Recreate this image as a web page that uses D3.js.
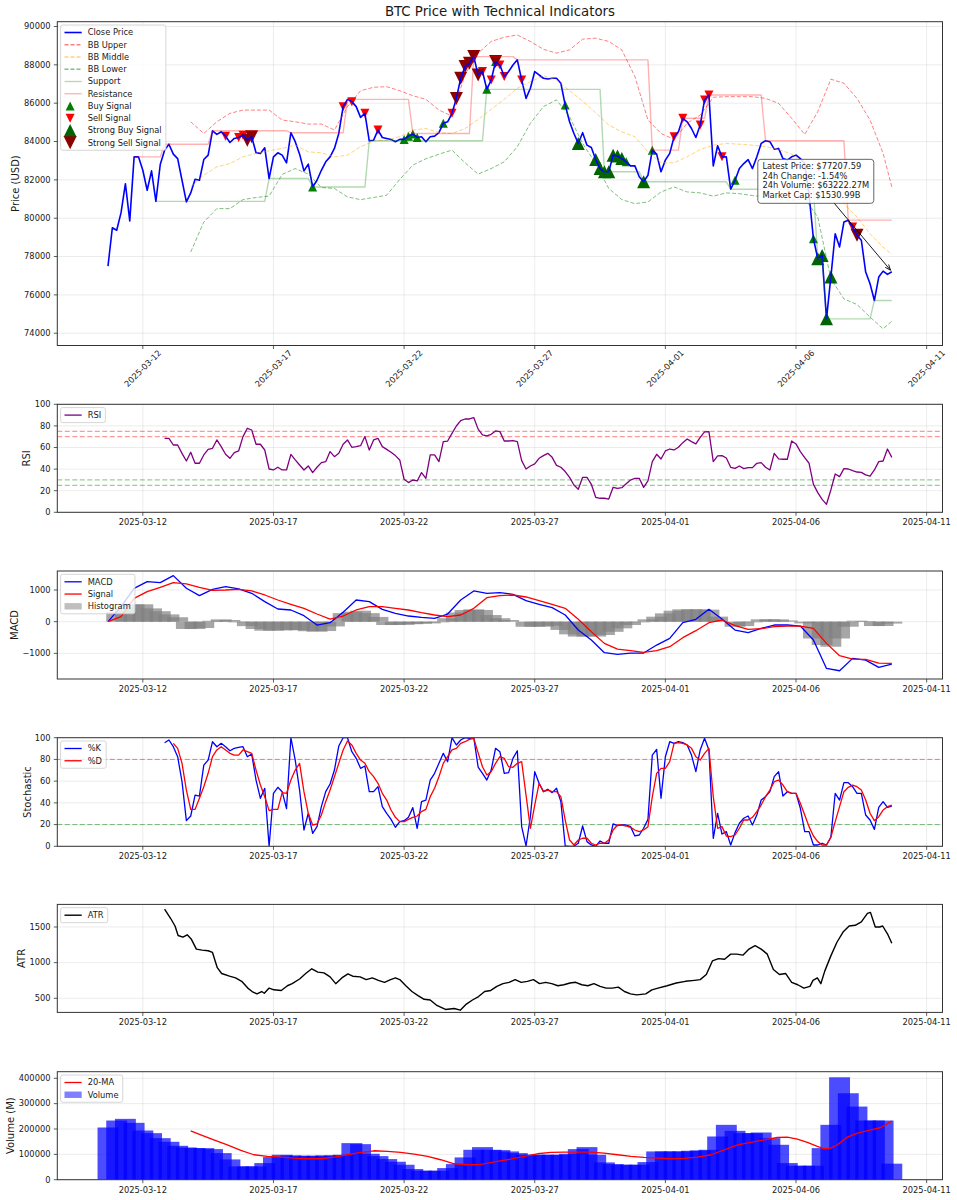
<!DOCTYPE html>
<html>
<head>
<meta charset="utf-8">
<script src="https://cdn.jsdelivr.net/npm/d3@7/dist/d3.min.js"></script>
<style>
html,body{margin:0;padding:0;background:#fff;}
svg{display:block;}
text{font-family:"DejaVu Sans",sans-serif;fill:#1a1a1a;}
</style>
</head>
<body>
<svg id="chart" width="957" height="1200"></svg>
<script>
// ================= DATA =================
const startTime = "2025-03-10T16:00:00Z";
const stepHours = 4;
const dateTicks = ["2025-03-12","2025-03-17","2025-03-22","2025-03-27","2025-04-01","2025-04-06","2025-04-11"];

const closePrice = [
 77500,79500,79370,80290,81800,79860,83200,83200,82500,81460,
 82470,80880,82800,83550,83860,83340,83110,81980,80850,81320,
 82030,81980,83060,83290,84560,84370,84510,84280,83950,84160,
 84210,84330,84070,84250,83410,83380,83670,82070,83200,83410,
 83290,82890,84460,83990,83340,82470,82820,81630,81980,82500,
 82940,83200,83640,84420,85820,86200,86080,85820,85260,85470,
 84040,84070,84600,84210,84160,84110,83990,84110,84110,84280,
 84390,84210,84250,83990,84250,84280,84460,84950,85030,85470,
 86250,87300,87910,88080,88430,87470,87650,86720,87210,88170,
 87990,87390,87650,87990,88260,87210,86250,86780,87650,87470,
 87300,87260,87300,87300,87040,85900,85030,84420,83900,84460,
 83810,83690,83060,82590,82420,82420,83290,83240,83110,82940,
 82730,82730,82160,81900,82240,83550,83340,82420,83030,83380,
 84250,84510,85210,85030,84680,84210,84860,86170,86430,82730,
 83780,83200,83200,81510,81980,82590,82850,83060,82590,83200,
 83900,84040,83990,83600,83640,83110,83030,83200,83290,83110,
 82850,81200,78930,77890,78060,74750,76930,79190,78500,79800,
 79890,79540,79110,78850,77190,76580,75710,76930,77240,77070,
 77207.59];

const bbIdx = [19,22,25,28,31,34,37,40,43,46,49,52,55,58,61,64,67,70,73,76,79,82,85,88,91,94,97,100,103,106,109,112,115,118,121,124,127,130,133,136,139,142,145,148,151,154,157,160,163,166,169,172,175,178,180];
const bbUpper = [85030,84420,85030,85470,85640,85640,85640,85120,85030,84910,84910,84600,85820,86650,86830,86860,86650,86390,86200,85640,85330,87500,88610,89220,89440,89560,89220,88810,88610,88780,89340,89390,89220,88780,87390,85120,84420,84110,84950,85380,86310,86340,86340,86340,86250,85990,85210,84370,85560,87250,87040,86250,85120,83380,81630];
const bbMiddle = [81640,82240,82680,82850,83200,83380,83520,83640,83810,83460,83410,83200,83290,83730,84020,84070,84250,84600,84680,84460,84420,84680,85150,85680,86200,86780,87120,87420,87210,86650,86110,85500,84860,84500,84250,83460,82890,82890,83200,83590,83810,83900,83860,83810,83730,83590,83340,82940,82500,81630,80760,80060,79190,78490,78110];
const bbLower = [78240,79800,80500,80500,80970,81080,81150,82280,82590,82300,81600,81550,81110,80970,81080,81200,82020,82770,83100,83340,83550,82890,82300,82590,82940,83730,84950,85820,86170,85290,83900,82850,81550,80970,80760,80850,81370,81630,81370,81320,81150,81320,81280,81180,81110,80970,80940,81020,80060,76840,75790,75500,74840,74230,74630];

const supportStart = [11,37,47,60,87,114,123,143,163,165,176];
const supportLevel = [80880,82070,81630,84040,86720,82420,81900,81510,77890,74750,75710];
const resistanceStart = [6,13,24,42,55,70,84,94,125,132,138,151,170];
const resistanceLevel = [83200,83860,84560,84460,86200,84420,88430,88260,83550,85210,86430,84040,79900];

const buyIdx = [47,68,69,70,71,77,87,89,105,119,125,144,162];
const strongBuyIdx = [108,112,113,114,115,116,117,118,123,163,164,165,166];
const sellIdx = [27,30,31,54,56,59,62,79,86,88,90,91,95,130,132,136,137,138,141,171];
const strongSellIdx = [32,33,80,81,82,83,84,85,89,172];

const annotationLines = ["Latest Price: $77207.59","24h Change: -1.54%","24h Volume: $63222.27M","Market Cap: $1530.99B"];

const rsiStart = 13;
const rsi = [
 68.5,68.5,62.3,62.3,54.6,47.5,55.6,45.4,45.4,53.1,
 58.3,59.3,67.0,60.8,53.7,50.0,55.2,56.8,70.1,77.8,
 76.2,63.0,63.0,57.7,40.1,39.2,41.7,39.2,39.2,53.7,
 48.5,43.8,39.2,42.9,36.7,41.7,46.0,46.9,56.2,51.5,
 54.6,63.0,67.0,60.2,60.8,61.7,70.1,57.7,67.0,68.5,
 60.8,58.3,55.6,52.5,48.5,30.6,27.5,29.9,29.0,36.7,
 31.5,53.1,53.1,46.9,65.4,66.0,73.1,79.9,84.9,86.4,
 86.4,87.7,77.0,71.6,70.7,72.2,75.3,74.7,66.0,66.0,
 66.4,65.4,47.8,40.1,42.9,44.8,50.0,52.5,54.6,50.9,
 43.5,41.7,37.7,32.4,25.3,21.3,32.4,32.4,25.9,13.9,
 13.0,13.0,12.3,23.1,22.2,22.8,26.5,29.9,31.5,31.5,
 23.1,29.0,46.9,53.7,49.4,56.8,58.6,57.7,60.2,64.5,
 67.9,65.4,63.3,69.4,74.4,74.7,46.9,52.2,52.5,50.3,
 41.7,40.7,42.9,40.4,41.4,41.4,45.4,46.0,41.7,39.2,
 54.6,49.4,49.1,49.1,66.0,63.3,56.2,50.6,45.4,25.9,
 18.2,12.0,7.4,20.7,35.5,33.0,40.4,40.1,38.6,37.3,
 37.0,34.6,33.6,39.2,46.9,47.5,58.6,50.9];
const rsiOverbought = [75,70];
const rsiOversold = [30,25];

const macdStep = 3;
const macd = [0,474,1053,1264,1232,1453,1053,821,1021,1106,1032,895,632,400,369,190,-105,-32,295,684,632,390,263,179,137,105,242,684,969,895,916,863,663,548,442,211,-263,-579,-979,-1032,-990,-990,-737,-527,-32,74,390,84,-263,-347,-211,-105,-105,-137,-579,-1474,-1548,-1158,-1211,-1443,-1337];
const macdSignal = [0,158,737,948,1085,1232,1190,1085,990,1000,1021,969,842,684,548,421,242,84,179,369,474,474,421,369,284,211,158,211,421,758,821,842,779,663,548,421,74,-316,-684,-863,-916,-969,-916,-790,-505,-284,-32,53,-126,-242,-221,-158,-137,-137,-211,-684,-1074,-1179,-1190,-1306,-1316];
const histStep = 2;
const macdHist = [
 0,300,420,548,548,420,330,230,140,-230,
 -232,-200,30,74,53,-20,-140,-230,-284,-284,
 -275,-263,-270,-300,-316,-295,-150,270,316,347,
 270,150,-105,-105,-100,-80,-65,-55,-20,110,
 290,369,390,370,210,110,53,0,-160,-158,
 -158,-130,-260,-400,-470,-470,-470,-420,-320,-210,
 -105,-20,74,158,263,347,390,390,390,380,
 160,0,-158,-140,-20,74,74,74,40,0,
 -53,-530,-737,-790,-530,-158,32,20,-137,-137,
 -60];

const stochKStart = 13;
const stochK = [
 95.4,97.9,91.7,82.5,59.5,23.6,27.9,47.2,46.3,74.8,
 79.4,96.3,91.7,94.8,91.7,88.0,90.2,91.1,91.7,82.5,
 85.0,61.0,44.2,53.4,0,48.8,54.3,50.3,34.7,100,
 79.4,51.8,15.0,30.4,12.0,18.1,36.5,50.3,57.4,70.2,
 92.3,100,100,87.1,81.0,71.8,73.9,50.3,50.3,54.9,
 36.5,30.4,24.8,17.5,22.7,23.6,26.7,35.6,16.6,41.1,
 42.6,61.0,67.2,76.4,85.6,77.9,100,93.3,97.9,100,
 99.4,100,73.0,67.2,61.0,70.2,90.2,87.1,67.2,67.8,
 81.0,88.0,18.1,0.3,27.3,68.7,58.0,50.3,52.5,49.4,
 53.4,41.1,0.3,0,0,2.8,18.7,4.3,1.2,0,
 4.9,2.8,2.8,20.6,19.0,19.6,19.6,18.1,9.5,10.4,
 16.6,24.8,84.0,89.3,44.2,82.5,96.3,94.8,96.3,95.4,
 93.3,84.0,68.7,88.7,99.4,88.7,7.4,30.4,11.3,13.5,
 1.2,12.6,21.2,25.8,27.9,19.6,28.8,42.6,45.7,50.3,
 64.1,68.7,46.3,50.3,48.8,48.8,35.0,13.5,13.5,1.2,
 1.2,2.8,1.2,8.3,48.8,42.6,58.6,58.6,54.9,48.8,
 48.8,28.8,24.2,15.6,35.9,41.1,35.9,37.1];
const stochDStart = 15;
const stochD = [
 94.8,90.2,76.4,51.8,34.0,34.0,44.2,54.9,67.2,82.5,
 88.7,91.7,88.7,85.6,84.0,84.0,88.7,87.1,85.6,70.2,
 56.4,45.7,32.8,34.0,34.0,49.4,48.8,61.0,70.2,76.4,
 50.3,30.4,19.6,20.6,28.8,41.1,51.8,64.1,76.4,88.7,
 96.9,93.3,85.6,79.4,76.4,68.7,64.1,58.0,48.8,42.6,
 33.4,26.7,22.7,22.7,24.8,26.7,27.9,31.9,34.0,45.7,
 53.4,64.1,76.4,82.5,88.7,90.2,94.8,96.3,98.5,99.4,
 86.0,73.3,65.6,68.7,76.4,82.5,81.0,73.3,72.7,76.4,
 77.9,47.2,16.6,38.0,58.0,50.3,51.8,50.3,50.3,45.7,
 24.2,5.8,1.2,5.8,7.4,7.4,2.8,1.2,2.8,2.8,
 5.8,15.0,19.6,19.6,18.7,17.5,15.0,13.5,15.0,18.1,
 45.7,67.2,71.8,71.8,77.9,94.8,95.4,94.8,93.3,90.2,
 82.5,79.4,85.6,90.2,45.7,16.6,18.1,9.5,8.9,10.4,
 16.6,24.2,24.2,26.7,31.9,38.0,45.7,51.8,59.5,61.0,
 56.4,50.3,48.8,48.8,39.6,28.8,18.1,9.5,4.3,1.2,
 1.2,8.3,22.7,36.5,50.3,54.3,56.4,54.9,51.8,42.6,
 30.4,23.6,27.3,33.4,36.5,38.0];
const stochLevels = [80,20];

const atrT = [13,14.4,15.4,16.1,17.2,18.2,19.1,20.3,21.6,23.0,24.0,25.1,26.1,27.9,29.3,30.7,32.1,33.1,34.2,35.3,35.9,37.0,38.1,39.8,41.2,42.3,44.0,45.4,46.8,48.2,49.6,51.0,52.3,53.7,55.1,56.2,57.9,59.3,60.7,62.1,63.5,64.9,66.0,67.0,68.4,69.8,71.2,72.6,74.0,75.4,77.5,79.5,80.9,82.3,83.7,85.1,86.5,87.9,89.3,90.7,92.1,93.5,94.9,96.3,97.7,99.1,100.5,101.9,103.3,104.7,106.1,107.4,108.8,110.2,111.6,113.0,114.4,115.8,117.2,118.6,120.0,121.4,123.5,124.9,126.3,128.4,130.5,132.6,134.7,136.0,137.4,138.8,140.2,141.6,143.0,144.4,145.8,147.2,148.6,150.0,151.4,152.8,154.2,155.6,157.0,158.4,159.8,161.2,161.9,162.9,163.7,164.6,166.0,167.4,168.8,170.2,171.6,173.0,174.4,175.1,176.2,177.2,177.9,179.0,180.0];
const atr = [1752,1619,1514,1381,1357,1390,1333,1190,1176,1167,1143,929,848,810,786,738,643,595,562,595,571,643,619,610,676,705,771,848,914,867,857,800,705,786,843,810,800,762,786,752,724,762,786,762,676,595,538,486,476,405,343,357,333,419,476,524,595,610,667,705,724,762,724,738,762,705,724,705,676,690,714,724,690,676,705,667,643,643,657,595,562,548,562,619,643,676,714,738,752,762,833,1024,1057,1048,1119,1119,1105,1190,1238,1190,1119,905,833,848,724,690,643,667,752,786,705,881,1095,1286,1429,1514,1524,1571,1690,1705,1500,1500,1514,1405,1271];

const volStep = 2;
const volume = [
 205900,233400,240000,224300,194100,183600,163900,149500,133800,127200,
 124600,124600,120700,104900,80000,52500,52500,52500,65600,89200,
 98400,95700,94400,94400,94400,95700,95700,98400,144300,140300,
 102300,93100,81300,70800,59000,42000,35400,35400,35400,45900,
 61600,87900,118000,128500,118000,116700,111500,104900,98400,98400,
 98400,98400,98400,102300,120700,128500,98400,68200,61600,59000,
 59000,59000,69500,111500,111500,111500,111500,114100,115400,118000,
 170500,216400,192800,183600,183600,186200,163900,137700,65600,55100,
 55100,55100,124600,216400,404000,341000,288500,233400,233400,233400,
 63222];
const maT = [19.0,21.3,24.3,27.4,30.5,33.5,36.6,39.7,42.7,45.8,48.9,51.9,55.0,58.0,61.1,64.2,67.2,70.3,73.4,76.4,79.5,82.5,85.6,89.4,92.5,95.6,98.6,101.7,104.7,107.8,110.9,113.9,117.0,120.1,123.1,126.2,129.3,132.3,135.4,138.5,141.5,144.6,147.6,150.7,153.7,156.0,158.3,160.6,162.9,164.5,166.0,167.5,169.8,172.1,175.2,177.5,180.0];
const volumeMA = [192800,177100,157400,137700,115400,98400,91800,89200,85200,82600,82600,89200,98400,107600,114100,111500,107600,101000,91800,78700,62900,59000,60300,72100,81300,91800,102300,107600,108900,108900,108900,104900,98400,91800,87900,85200,82600,83900,89200,98400,118000,137700,146900,157400,166500,167900,160000,146900,131200,122000,124600,137700,167900,183700,196700,205900,230800];

const priceTicks = [74000,76000,78000,80000,82000,84000,86000,88000,90000];
const pctTicks = [0,20,40,60,80,100];
const macdTicks = [-1000,0,1000];
const atrTicks = [500,1000,1500];
const volTicks = [0,100000,200000,300000,400000];

// ================= LAYOUT / SCALES =================
const svg = d3.select("#chart");
const L = 57.3, R = 942.5;
const t0 = new Date(startTime).getTime();
const tOf = i => new Date(t0 + i * stepHours * 3600e3);
const lastIdx = closePrice.length - 1;
const barHalf = 0.4 * 24 / stepHours;
const span = lastIdx + 2 * barHalf;
const x = d3.scaleUtc()
  .domain([tOf(-barHalf - 0.05 * span), tOf(lastIdx + barHalf + 0.05 * span)])
  .range([L, R]);
const tickTimes = dateTicks.map(s => new Date(s + "T00:00:00Z"));
const FS = 8.3;
const fmtNum = v => String(v).replace("-", "\u2212");

function seq(start, n, step) { return d3.range(n).map(k => start + k * step); }

function makePanel(cfg) {
  const y = d3.scaleLinear().domain(cfg.domain).range([cfg.bottom, cfg.top]);
  const g = svg.append("g");
  const id = "clip-" + cfg.name;
  svg.append("clipPath").attr("id", id).append("rect")
    .attr("x", L).attr("y", cfg.top).attr("width", R - L).attr("height", cfg.bottom - cfg.top);
  const grid = g.append("g").attr("stroke", "#b0b0b0").attr("stroke-opacity", 0.3).attr("stroke-width", 0.8);
  tickTimes.forEach(t => grid.append("line").attr("x1", x(t)).attr("x2", x(t)).attr("y1", cfg.top).attr("y2", cfg.bottom));
  cfg.yTicks.forEach(v => grid.append("line").attr("x1", L).attr("x2", R).attr("y1", y(v)).attr("y2", y(v)));
  const plot = g.append("g").attr("clip-path", `url(#${id})`);
  return { y, g, plot, cfg };
}

function finishPanel(p) {
  const c = p.cfg, g = p.g;
  g.append("rect").attr("x", L).attr("y", c.top).attr("width", R - L).attr("height", c.bottom - c.top)
    .attr("fill", "none").attr("stroke", "#333").attr("stroke-width", 1);
  const tk = g.append("g").attr("stroke", "#333").attr("stroke-width", 0.8);
  tickTimes.forEach(t => tk.append("line").attr("x1", x(t)).attr("x2", x(t)).attr("y1", c.bottom).attr("y2", c.bottom + 3.5));
  c.yTicks.forEach(v => tk.append("line").attr("x1", L - 3.5).attr("x2", L).attr("y1", p.y(v)).attr("y2", p.y(v)));
  c.yTicks.forEach(v => g.append("text").attr("x", L - 6.8).attr("y", p.y(v)).attr("dy", "0.34em")
    .attr("text-anchor", "end").attr("font-size", FS).text(fmtNum(v)));
  tickTimes.forEach(t => {
    const lbl = d3.utcFormat("%Y-%m-%d")(t);
    if (c.rotate) {
      const cx = x(t), cy = c.bottom + 23;
      g.append("text").attr("x", cx).attr("y", cy).attr("text-anchor", "middle").attr("dy", "0.34em")
        .attr("font-size", FS).attr("transform", `rotate(-45,${cx},${cy})`).text(lbl);
    } else {
      g.append("text").attr("x", x(t)).attr("y", c.bottom + 13).attr("text-anchor", "middle")
        .attr("font-size", FS).text(lbl);
    }
  });
  const cy = (c.top + c.bottom) / 2;
  g.append("text").attr("x", c.labelX).attr("y", cy).attr("text-anchor", "middle").attr("dy", "0.35em")
    .attr("font-size", 10).attr("transform", `rotate(-90,${c.labelX},${cy})`).text(c.label);
}

function drawLine(p, idx, vals, st) {
  const data = vals.map((v, k) => [idx[k], v]);
  p.plot.append("path")
    .attr("d", d3.line().x(d => x(tOf(d[0]))).y(d => p.y(d[1]))(data))
    .attr("fill", "none").attr("stroke", st.color).attr("stroke-width", st.width || 1)
    .attr("stroke-opacity", st.opacity == null ? 1 : st.opacity)
    .attr("stroke-dasharray", st.dash || null).attr("stroke-linejoin", "round");
}

function drawBars(p, idx, vals, color, opacity) {
  p.plot.append("g").selectAll("rect").data(vals.map((v, k) => [idx[k], v])).join("rect")
    .attr("x", d => x(tOf(d[0] - barHalf)))
    .attr("width", d => x(tOf(d[0] + barHalf)) - x(tOf(d[0] - barHalf)))
    .attr("y", d => Math.min(p.y(d[1]), p.y(0)))
    .attr("height", d => Math.abs(p.y(d[1]) - p.y(0)))
    .attr("fill", color).attr("fill-opacity", opacity);
}

function hline(p, v, color, opacity) {
  p.plot.append("line").attr("x1", L).attr("x2", R).attr("y1", p.y(v)).attr("y2", p.y(v))
    .attr("stroke", color).attr("stroke-opacity", opacity).attr("stroke-width", 1).attr("stroke-dasharray", "5,2.5");
}

function triPath(cx, cy, s, up) {
  const h = s / 2;
  return up ? `M${cx},${cy - h}L${cx + h},${cy + h}L${cx - h},${cy + h}Z`
            : `M${cx},${cy + h}L${cx + h},${cy - h}L${cx - h},${cy - h}Z`;
}

function stepSeries(starts, levels, end) {
  const idx = [], vals = [];
  starts.forEach((s, k) => {
    const e = k + 1 < starts.length ? starts[k + 1] - 1 : end;
    for (let i = s; i <= e; i++) { idx.push(i); vals.push(levels[k]); }
  });
  return [idx, vals];
}

function legend(p, items) {
  const x0 = L + 3.3, y0 = p.cfg.top + 3.3, sp = 12.25;
  const lg = svg.append("g");
  const box = lg.append("rect");
  let maxW = 0;
  items.forEach((it, k) => {
    const cy = y0 + 7.5 + k * sp;
    const hx0 = x0 + 3.9, hx1 = x0 + 21.1;
    if (it.type === "line") {
      lg.append("line").attr("x1", hx0).attr("x2", hx1).attr("y1", cy).attr("y2", cy)
        .attr("stroke", it.color).attr("stroke-width", it.width || 1.3)
        .attr("stroke-opacity", it.opacity == null ? 1 : it.opacity).attr("stroke-dasharray", it.dash || null);
    } else if (it.type === "rect") {
      lg.append("rect").attr("x", hx0).attr("y", cy - 3.2).attr("width", hx1 - hx0).attr("height", 6.4)
        .attr("fill", it.color).attr("fill-opacity", it.opacity);
    } else {
      lg.append("path").attr("d", triPath((hx0 + hx1) / 2 - 3, cy, it.size, it.up)).attr("fill", it.color);
    }
    const t = lg.append("text").attr("x", x0 + 27.1).attr("y", cy).attr("dy", "0.34em").attr("font-size", FS).text(it.label);
    maxW = Math.max(maxW, t.node().getComputedTextLength());
  });
  box.attr("x", x0).attr("y", y0).attr("width", 27.1 + maxW + 4.2).attr("height", 15 + (items.length - 1) * sp)
    .attr("rx", 2).attr("fill", "#fff").attr("fill-opacity", 0.8).attr("stroke", "#cccccc").attr("stroke-width", 0.8);
}

// ================= PANELS =================
const pPrice = makePanel({ name: "price", top: 21.7, bottom: 345.5, domain: [73360, 90250], yTicks: priceTicks, label: "Price (USD)", labelX: 15.7, rotate: true });
const pRsi = makePanel({ name: "rsi", top: 404.3, bottom: 512.3, domain: [0, 100], yTicks: pctTicks, label: "RSI", labelX: 26.7 });
const pMacd = makePanel({ name: "macd", top: 571, bottom: 679, domain: [-1808, 1599], yTicks: macdTicks, label: "MACD", labelX: 14.3 });
const pStoch = makePanel({ name: "stoch", top: 737.7, bottom: 846.3, domain: [0, 100], yTicks: pctTicks, label: "Stochastic", labelX: 27.3 });
const pAtr = makePanel({ name: "atr", top: 904.4, bottom: 1012.4, domain: [302, 1817], yTicks: atrTicks, label: "ATR", labelX: 21.5 });
const pVol = makePanel({ name: "vol", top: 1071.7, bottom: 1179.7, domain: [0, 426000], yTicks: volTicks, label: "Volume (M)", labelX: 10.7 });

// ---- price panel ----
const closeIdx = seq(0, closePrice.length, 1);
const markerSets = [
  { idx: buyIdx, color: "#008000", size: 9, up: true },
  { idx: sellIdx, color: "#ff0000", size: 9, up: false },
  { idx: strongBuyIdx, color: "#006400", size: 13, up: true },
  { idx: strongSellIdx, color: "#8b0000", size: 13, up: false }
];
markerSets.forEach(ms => {
  pPrice.plot.append("g").selectAll("path").data(ms.idx).join("path")
    .attr("d", i => triPath(x(tOf(i)), pPrice.y(closePrice[i]), ms.size, ms.up)).attr("fill", ms.color);
});
drawLine(pPrice, closeIdx, closePrice, { color: "#0000ff", width: 1.6 });
drawLine(pPrice, bbIdx, bbUpper, { color: "#ff0000", opacity: 0.5, dash: "4,2" });
drawLine(pPrice, bbIdx, bbMiddle, { color: "#ffa500", opacity: 0.5, dash: "4,2" });
drawLine(pPrice, bbIdx, bbLower, { color: "#008000", opacity: 0.5, dash: "4,2" });
const [supI, supV] = stepSeries(supportStart, supportLevel, lastIdx);
drawLine(pPrice, supI, supV, { color: "#008000", opacity: 0.3, width: 1.4 });
const [resI, resV] = stepSeries(resistanceStart, resistanceLevel, lastIdx);
drawLine(pPrice, resI, resV, { color: "#ff0000", opacity: 0.3, width: 1.4 });
finishPanel(pPrice);
legend(pPrice, [
  { type: "line", color: "#0000ff", width: 1.6, label: "Close Price" },
  { type: "line", color: "#ff0000", opacity: 0.5, dash: "4,2", label: "BB Upper" },
  { type: "line", color: "#ffa500", opacity: 0.5, dash: "4,2", label: "BB Middle" },
  { type: "line", color: "#008000", opacity: 0.5, dash: "4,2", label: "BB Lower" },
  { type: "line", color: "#008000", opacity: 0.3, label: "Support" },
  { type: "line", color: "#ff0000", opacity: 0.3, label: "Resistance" },
  { type: "tri", color: "#008000", size: 9, up: true, label: "Buy Signal" },
  { type: "tri", color: "#ff0000", size: 9, up: false, label: "Sell Signal" },
  { type: "tri", color: "#006400", size: 13, up: true, label: "Strong Buy Signal" },
  { type: "tri", color: "#8b0000", size: 13, up: false, label: "Strong Sell Signal" }
]);
// annotation
(function () {
  const px = x(tOf(lastIdx)), py = pPrice.y(closePrice[lastIdx]);
  const ag = svg.append("g");
  const bx = px - 134, by = py - 112.4;
  const box = ag.append("rect");
  let maxW = 0;
  annotationLines.forEach((s, k) => {
    const t = ag.append("text").attr("x", bx + 4.6).attr("y", by + 7 + k * 9.5).attr("dy", "0.34em").attr("font-size", FS).text(s);
    maxW = Math.max(maxW, t.node().getComputedTextLength());
  });
  const bw = maxW + 9.2, bh = 44;
  box.attr("x", bx).attr("y", by).attr("width", bw).attr("height", bh).attr("rx", 3)
    .attr("fill", "#fff").attr("fill-opacity", 0.85).attr("stroke", "#555").attr("stroke-width", 0.9);
  const cx = bx + bw / 2, cy = by + bh / 2;
  const tEdge = (by + bh - cy) / (py - cy);
  const sx = cx + (px - cx) * tEdge, sy = by + bh;
  const ang = Math.atan2(py - sy, px - sx);
  const ex = px - 2 * Math.cos(ang), ey = py - 2 * Math.sin(ang);
  ag.append("line").attr("x1", sx).attr("y1", sy).attr("x2", ex).attr("y2", ey).attr("stroke", "#000").attr("stroke-width", 0.9);
  const hl = 6, ha = 0.38;
  ag.append("path").attr("d", `M${ex - hl * Math.cos(ang - ha)},${ey - hl * Math.sin(ang - ha)}L${ex},${ey}L${ex - hl * Math.cos(ang + ha)},${ey - hl * Math.sin(ang + ha)}`)
    .attr("fill", "none").attr("stroke", "#000").attr("stroke-width", 0.9);
})();
svg.append("text").attr("x", (L + R) / 2).attr("y", 16.3).attr("text-anchor", "middle").attr("font-size", 13.3)
  .text("BTC Price with Technical Indicators");

// ---- RSI ----
rsiOverbought.forEach(v => hline(pRsi, v, "#ff0000", 0.5));
rsiOversold.forEach(v => hline(pRsi, v, "#008000", 0.5));
drawLine(pRsi, seq(rsiStart, rsi.length, 1), rsi, { color: "#800080", width: 1.3 });
finishPanel(pRsi);
legend(pRsi, [{ type: "line", color: "#800080", width: 1.3, label: "RSI" }]);

// ---- MACD ----
drawBars(pMacd, seq(0, macdHist.length, histStep), macdHist, "#808080", 0.7);
drawLine(pMacd, seq(0, macd.length, macdStep), macd, { color: "#0000ff", width: 1.3 });
drawLine(pMacd, seq(0, macdSignal.length, macdStep), macdSignal, { color: "#ff0000", width: 1.3 });
finishPanel(pMacd);
legend(pMacd, [
  { type: "line", color: "#0000ff", width: 1.3, label: "MACD" },
  { type: "line", color: "#ff0000", width: 1.3, label: "Signal" },
  { type: "rect", color: "#808080", opacity: 0.5, label: "Histogram" }
]);

// ---- Stochastic ----
hline(pStoch, stochLevels[0], "#ff0000", 0.5);
hline(pStoch, stochLevels[1], "#008000", 0.5);
drawLine(pStoch, seq(stochKStart, stochK.length, 1), stochK, { color: "#0000ff", width: 1.3 });
drawLine(pStoch, seq(stochDStart, stochD.length, 1), stochD, { color: "#ff0000", width: 1.3 });
finishPanel(pStoch);
legend(pStoch, [
  { type: "line", color: "#0000ff", width: 1.3, label: "%K" },
  { type: "line", color: "#ff0000", width: 1.3, label: "%D" }
]);

// ---- ATR ----
drawLine(pAtr, atrT, atr, { color: "#000000", width: 1.4 });
finishPanel(pAtr);
legend(pAtr, [{ type: "line", color: "#000000", width: 1.4, label: "ATR" }]);

// ---- Volume ----
drawBars(pVol, seq(0, volume.length, volStep), volume, "#0000ff", 0.7);
drawLine(pVol, maT, volumeMA, { color: "#ff0000", width: 1.3 });
finishPanel(pVol);
legend(pVol, [
  { type: "line", color: "#ff0000", width: 1.3, label: "20-MA" },
  { type: "rect", color: "#0000ff", opacity: 0.5, label: "Volume" }
]);
</script>
</body>
</html>
